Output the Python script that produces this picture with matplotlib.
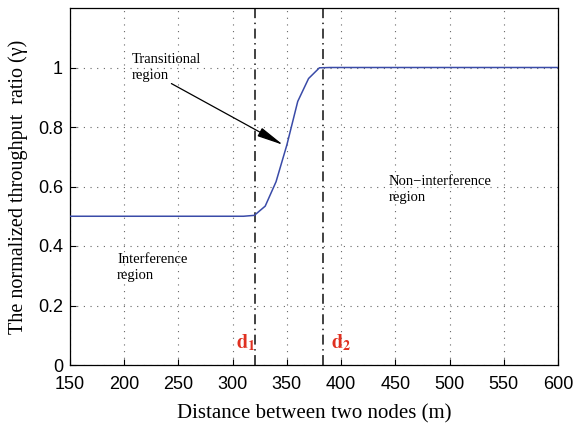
import matplotlib
matplotlib.use("Agg")
import matplotlib.pyplot as plt
import numpy as np

# distance (m) and normalized throughput ratio
distance = [150, 200, 250, 300, 310, 320, 330, 340, 350, 360, 370, 380, 390, 400, 450, 500, 550, 600]
ratio = [0.5, 0.5, 0.5, 0.5, 0.5, 0.503, 0.534, 0.616, 0.74, 0.886, 0.963, 0.999, 1.0, 1.0, 1.0, 1.0, 1.0, 1.0]

d1 = 321
d2 = 383

xticks = [150, 200, 250, 300, 350, 400, 450, 500, 550, 600]
yticks = [0, 0.2, 0.4, 0.6, 0.8, 1.0]
ytick_labels = ["0", "0.2", "0.4", "0.6", "0.8", "1"]

serif = "Liberation Serif"
sans = "Liberation Sans"
plt.rcParams["mathtext.fontset"] = "stix"

fig = plt.figure(figsize=(5.75, 4.24), dpi=100)
ax = fig.add_axes([70 / 575, 1 - 365 / 424, (558 - 70) / 575, (365 - 8) / 424])

ax.plot(distance, ratio, color="#3a4ba8", lw=1.1, zorder=3)

for d in (d1, d2):
    ax.axvline(d, color="#333333", lw=1.3, ls=(0, (5.5, 2.5, 0.8, 2.5)), zorder=2)

ax.set_xlim(150, 600)
ax.set_ylim(0, 1.2)
ax.set_xticks(xticks)
ax.set_yticks(yticks)
ax.set_yticklabels(ytick_labels)
ax.grid(True, color="#666666", ls=(0, (1, 5)), lw=0.8)
ax.tick_params(direction="in", length=4, labelsize=13)
ax.tick_params(axis="x", pad=8)
ax.tick_params(axis="y", pad=5)
for lab in ax.get_xticklabels() + ax.get_yticklabels():
    lab.set_fontfamily(sans)
for sp in ax.spines.values():
    sp.set_linewidth(0.9)

ax.set_xlabel("Distance between two nodes (m)", fontfamily=serif, fontsize=15, labelpad=8)
ax.set_ylabel("The normalized throughput  ratio (\u03b3)", fontfamily=serif, fontsize=14.5, labelpad=7)

ax.text(207, 1.05, "Transitional\nregion", fontfamily=serif, fontsize=10.5, va="top", ha="left", linespacing=1.3)
ax.text(193.5, 0.375, "Interference\nregion", fontfamily=serif, fontsize=10.5, va="top", ha="left", linespacing=1.3)
ax.text(443.5, 0.64, "Non\u2212interference\nregion", fontfamily=serif, fontsize=10.5, va="top", ha="left", linespacing=1.3)

ax.annotate("", xy=(346.5, 0.74), xytext=(243.5, 0.946),
            arrowprops=dict(arrowstyle="-|>,head_length=0.9,head_width=0.16", color="black", lw=0.9,
                            mutation_scale=18, shrinkA=0, shrinkB=0))

ax.text(303.5, 0.075, r"$\mathbf{d}_{\mathbf{1}}$", color="#e03020", fontsize=14.5, ha="left", va="center")
ax.text(391, 0.075, r"$\mathbf{d}_{\mathbf{2}}$", color="#e03020", fontsize=14.5, ha="left", va="center")

fig.savefig("out.png", dpi=100)
